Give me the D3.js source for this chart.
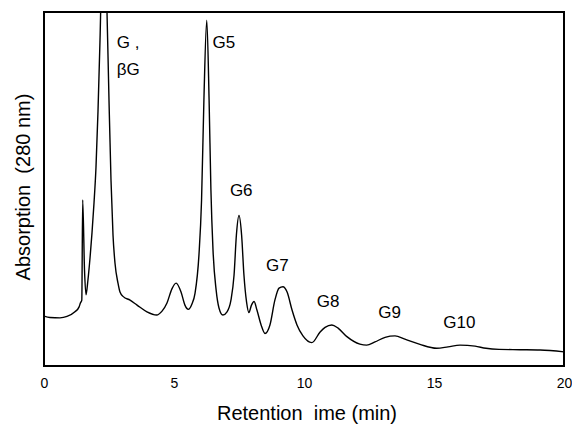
<!DOCTYPE html>
<meta charset="utf-8">
<style>

body {
  margin: 0;
  background: #ffffff;
}

svg {
  display: block;
}

text {
  font-family: 'Liberation Sans', Arial, sans-serif;
  fill: #000000;
}

.frame {
  fill: none;
  stroke: #000000;
  stroke-width: 2;
}

.trace {
  fill: none;
  stroke: #000000;
  stroke-width: 1.4;
}

.axis .tick text {
  font-size: 14px;
}

text.peak {
  font-size: 17px;
}

text.label {
  font-size: 20px;
  white-space: pre;
}

</style>
<body>
<svg width="572" height="428"></svg>

<script src="https://d3js.org/d3.v7.min.js"></script>
<script>

    // retention time (min) and absorption (arbitrary units, 0..100 = axis box)
    const time = [
      0, 0.23, 0.615, 0.885, 1.19, 1.35, 1.40, 1.454, 1.488, 1.558, 1.615,
      1.69, 1.77, 1.846, 1.923, 2.0, 2.077, 2.154, 2.288, 2.423, 2.5, 2.577, 2.654,
      2.73, 2.846, 2.923, 3.05, 3.31, 3.58, 3.96, 4.33, 4.54, 4.73, 4.92,
      5.08, 5.27, 5.42, 5.55, 5.69, 5.81, 5.96, 6.06, 6.15, 6.26, 6.35,
      6.42, 6.5, 6.62, 6.73, 6.88, 7.04, 7.19, 7.31, 7.4, 7.5, 7.6, 7.69,
      7.79, 7.88, 7.98, 8.08, 8.19, 8.35, 8.5, 8.69, 8.88, 9.04, 9.19, 9.35,
      9.54, 9.73, 9.96, 10.3, 10.62, 10.81, 11.07, 11.31, 11.65, 12.15, 12.41,
      12.73, 13.12, 13.5, 13.88, 14.46, 15.1, 15.54, 16.0, 16.58, 17.0, 17.5,
      18.31, 19.08, 20
    ];

    const absorption = [
      14.1, 13.7, 13.6, 14.0, 15.3, 16.7, 17.8, 18.6, 46.9, 27.1, 20.1,
      24.3, 30.5, 37.6, 46.0, 56.2, 72.0, 92.0, 131.6, 100, 75.1, 52.5, 37.0,
      29.1, 23.4, 20.9, 19.6, 18.6, 17.2, 15.3, 14.4, 15.5, 17.8, 21.8,
      23.4, 20.9, 17.2, 16.0, 17.5, 20.6, 31.4, 46.9, 75.1, 97.7, 75.1,
      49.7, 32.8, 21.5, 16.4, 14.4, 15.3, 18.6, 25.7, 37.0, 42.5, 37.0, 25.7,
      18.1, 15.1, 17.2, 18.2, 15.8, 11.6, 9.2, 11.6, 18.6, 22.0, 22.4, 20.9,
      15.8, 11.6, 8.5, 6.6, 9.6, 10.9, 11.6, 10.7, 8.3, 6.2, 5.9,
      6.8, 8.1, 8.5, 7.6, 6.1, 5.0, 5.4, 5.9, 5.6, 5.0, 4.7,
      4.6, 4.5, 4.0
    ];

    const xTicks = [0, 5, 10, 15, 20];

    const peakLabels = [
      { text: 'G ,', t: 2.8, v: 89.7 },
      { text: 'βG', t: 2.8, v: 82.2 },
      { text: 'G5', t: 6.48, v: 89.7 },
      { text: 'G6', t: 7.15, v: 47.9 },
      { text: 'G7', t: 8.54, v: 26.9 },
      { text: 'G8', t: 10.49, v: 16.8 },
      { text: 'G9', t: 12.86, v: 13.6 },
      { text: 'G10', t: 15.36, v: 10.8 }
    ];

    const dane = time.map((t, i) => ({ t: t, v: absorption[i] }));

    const svg = d3.select('svg');

    const plotLeft = 44, plotRight = 564, plotTop = 12, plotBottom = 366;

    const xScale = d3.scaleLinear()
      .domain([0, 20])
      .range([plotLeft, plotRight]);

    const yScale = d3.scaleLinear()
      .domain([0, 100])
      .range([plotBottom, plotTop]);

    svg.append('clipPath')
      .attr('id', 'plot')
      .append('rect')
      .attr('x', plotLeft)
      .attr('y', plotTop)
      .attr('width', plotRight - plotLeft)
      .attr('height', plotBottom - plotTop);

    const line = d3.line()
      .x((d) => xScale(d.t))
      .y((d) => yScale(d.v))
      .curve(d3.curveMonotoneX);

    svg.append('path')
      .datum(dane)
      .attr('class', 'trace')
      .attr('clip-path', 'url(#plot)')
      .attr('d', line);

    svg.append('rect')
      .attr('class', 'frame')
      .attr('x', plotLeft)
      .attr('y', plotTop)
      .attr('width', plotRight - plotLeft)
      .attr('height', plotBottom - plotTop);

    const xAxis = svg.append('g')
      .attr('class', 'axis')
      .attr('transform', `translate(0, ${plotBottom})`)
      .call(d3.axisBottom(xScale)
        .tickValues(xTicks)
        .tickSize(0)
        .tickPadding(12)
        .tickFormat(d3.format('d')));

    xAxis.select('.domain').remove();
    xAxis.attr('font-family', null).attr('font-size', null);

    svg.selectAll('text.peak')
      .data(peakLabels)
      .enter()
      .append('text')
      .attr('class', 'peak')
      .attr('x', (d) => xScale(d.t))
      .attr('y', (d) => yScale(d.v))
      .text((d) => d.text);

    svg.append('text')
      .attr('class', 'label')
      .attr('x', (plotLeft + plotRight) / 2 + 3)
      .attr('y', 420)
      .attr('text-anchor', 'middle')
      .text('Retention  ime (min)');

    svg.append('text')
      .attr('class', 'label')
      .attr('transform', 'translate(30, 187) rotate(-90)')
      .attr('text-anchor', 'middle')
      .text('Absorption  (280 nm)');

</script>
</body>
